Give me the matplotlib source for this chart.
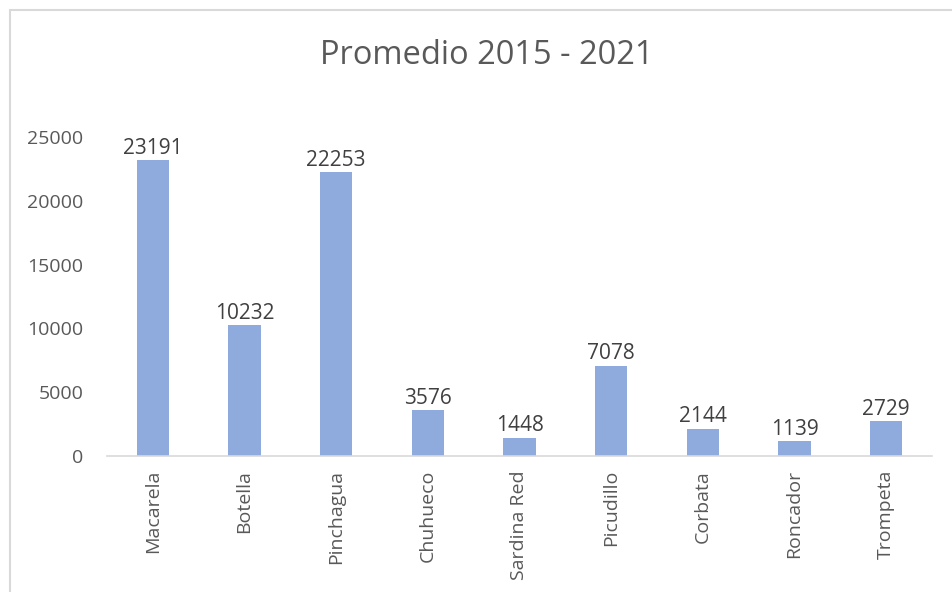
import matplotlib
matplotlib.use("Agg")
import matplotlib.pyplot as plt
from matplotlib.patches import Rectangle

# datos
especies = ["Macarela", "Botella", "Pinchagua", "Chuhueco", "Sardina Red",
            "Picudillo", "Corbata", "Roncador", "Trompeta"]
promedio = [23191, 10232, 22253, 3576, 1448, 7078, 2144, 1139, 2729]
yticks = [0, 5000, 10000, 15000, 20000, 25000]

plt.rcParams["font.family"] = ["Open Sans", "DejaVu Sans"]
gris = "#595959"

fig = plt.figure(figsize=(9.52, 5.92), dpi=100)
ax = fig.add_axes([107 / 952, 1 - 456 / 592, 825 / 952, (456 - 137) / 592])

x = range(len(especies))
bars = ax.bar(x, promedio, width=0.35, color="#8faadc")
for b, v in zip(bars, promedio):
    ax.text(b.get_x() + b.get_width() / 2, v + 120, str(v), ha="center",
            va="bottom", fontsize=15, color="#404040")

ax.set_xlim(-0.5, len(especies) - 0.5)
ax.set_ylim(0, 25000)
ax.set_yticks(yticks)
ax.set_yticklabels([str(t) for t in yticks])
ax.set_xticks(list(x))
ax.set_xticklabels(especies, rotation=90)
ax.tick_params(axis="both", length=0, labelsize=14, colors=gris)
ax.tick_params(axis="y", pad=17)
ax.tick_params(axis="x", pad=10)

for s in ["top", "right", "left"]:
    ax.spines[s].set_visible(False)
ax.spines["bottom"].set_color("#d9d9d9")
ax.spines["bottom"].set_linewidth(1.2)

fig.text(487 / 952, 1 - 56 / 592, "Promedio 2015 - 2021", ha="center",
         va="center", fontsize=23.5, color=gris)

# borde del area del grafico
fig.patches.append(Rectangle((10 / 952, -0.1), 1.0, 1 - 10 / 592 + 0.1,
                             transform=fig.transFigure, fill=False,
                             edgecolor="#d9d9d9", linewidth=1.5))

fig.savefig("out.png", dpi=100)
